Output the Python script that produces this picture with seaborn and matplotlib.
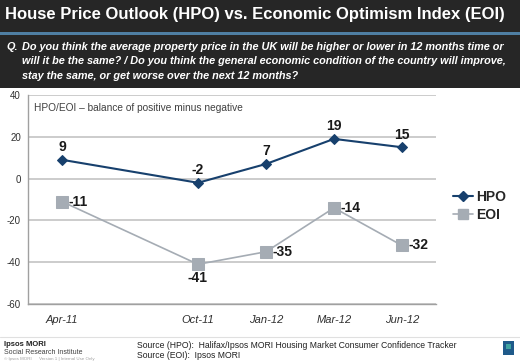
import numpy as np
import pandas as pd
import matplotlib.pyplot as plt
import seaborn as sns
from matplotlib.patches import Rectangle
from matplotlib.lines import Line2D

###############################################################################

months = ['Apr-11', '', 'Oct-11', 'Jan-12', 'Mar-12', 'Jun-12']
hpo = [9, np.nan, -2, 7, 19, 15]
eoi = [-11, np.nan, -41, -35, -14, -32]

title = 'House Price Outlook (HPO) vs. Economic Optimism Index (EOI)'
question = [
    'Do you think the average property price in the UK will be higher or lower in 12 months time or',
    'will it be the same? / Do you think the general economic condition of the country will improve,',
    'stay the same, or get worse over the next 12 months?',
]

HPO_COLOR = '#17406d'
EOI_COLOR = '#a5acb4'
DARK = '#262626'

###############################################################################

sns.set_style('white')
plt.rcParams['font.family'] = ['Liberation Sans', 'DejaVu Sans']
plt.rcParams['axes.unicode_minus'] = False

df = pd.DataFrame({'pos': np.arange(len(months)), 'HPO': hpo, 'EOI': eoi})

fig = plt.figure(figsize=(5.2, 3.62), dpi=100)
fig.patch.set_facecolor('white')

# header bars
fig.add_artist(Rectangle((0, 1 - 32 / 362), 1, 32 / 362, transform=fig.transFigure,
                         facecolor=DARK, edgecolor='none', zorder=0))
fig.add_artist(Rectangle((0, 1 - 35 / 362), 1, 3 / 362, transform=fig.transFigure,
                         facecolor='#4f7fa3', edgecolor='none', zorder=0))
fig.add_artist(Rectangle((0, 1 - 88 / 362), 1, 53 / 362, transform=fig.transFigure,
                         facecolor=DARK, edgecolor='none', zorder=0))

fig.text(5 / 520, 1 - 15 / 362, title, color='white', fontsize=12,
         fontweight='bold', va='center', ha='left')
fig.text(6 / 520, 1 - 47 / 362, 'Q.', color='white', fontsize=7.8,
         fontweight='bold', style='italic', va='center')
for i, line in enumerate(question):
    fig.text(22 / 520, 1 - (47 + 14.5 * i) / 362, line, color='white', fontsize=7.8,
             fontweight='bold', style='italic', va='center')

ax = fig.add_axes([28 / 520, 1 - 304 / 362, 408 / 520, 209 / 362])

sns.lineplot(data=df.dropna(), x='pos', y='EOI', ax=ax, color=EOI_COLOR,
             marker='s', markersize=8, markeredgecolor=EOI_COLOR, linewidth=1.2)
sns.lineplot(data=df.dropna(), x='pos', y='HPO', ax=ax, color=HPO_COLOR,
             marker='D', markersize=5.5, markeredgecolor=HPO_COLOR, linewidth=1.5)

ax.set_xlim(-0.5, len(months) - 0.5)
ax.set_ylim(-60, 40)
ax.set_yticks(np.arange(-60, 41, 20))
ax.set_xticks(np.arange(-0.5, len(months), 1))
ax.set_xticklabels([])
ax.set_xticks(np.arange(len(months)), minor=True)
ax.set_xticklabels(months, minor=True, fontsize=8, style='italic', color='#303030')
ax.tick_params(axis='x', which='major', direction='out', length=4, color='#a0a0a0')
ax.tick_params(axis='x', which='minor', length=0, pad=8)
ax.tick_params(axis='y', direction='out', length=3, color='#a0a0a0',
               labelsize=7, labelcolor='#303030', pad=2)
ax.set_xlabel('')
ax.set_ylabel('')
ax.grid(axis='y', color='#c8c8c8', linewidth=1.3)
ax.grid(axis='x', visible=False)
for s in ['top', 'right']:
    ax.spines[s].set_visible(False)
for s in ['left', 'bottom']:
    ax.spines[s].set_color('#a0a0a0')
    ax.spines[s].set_linewidth(1)
ax.set_axisbelow(True)

ax.text(0.015, 0.96, 'HPO/EOI \u2013 balance of positive minus negative', transform=ax.transAxes,
        fontsize=7.3, color='#404040', va='top')

for x, v in zip(df['pos'], df['HPO']):
    if np.isnan(v):
        continue
    ax.annotate(f'{v:g}', (x, v), xytext=(0, 4), textcoords='offset points',
                ha='center', va='bottom', fontsize=10, fontweight='bold', color='#1a1a1a')
for x, v in zip(df['pos'], df['EOI']):
    if np.isnan(v):
        continue
    if v == -41:
        ax.annotate(f'{v:g}', (x, v), xytext=(0, -5), textcoords='offset points',
                    ha='center', va='top', fontsize=10, fontweight='bold', color='#1a1a1a')
    else:
        ax.annotate(f'{v:g}', (x, v), xytext=(5, 0), textcoords='offset points',
                    ha='left', va='center', fontsize=10, fontweight='bold', color='#1a1a1a')

handles = [
    Line2D([], [], color=HPO_COLOR, marker='D', markersize=5, linewidth=1.5),
    Line2D([], [], color=EOI_COLOR, marker='s', markersize=7, linewidth=1.2),
]
fig.legend(handles, ['HPO', 'EOI'], loc='center left', bbox_to_anchor=(440 / 520, 1 - 206 / 362),
           frameon=False, prop={'weight': 'bold', 'size': 10}, handlelength=1.5,
           handletextpad=0.2, labelspacing=0.3)

# footer
fig.add_artist(Line2D([0, 1], [1 - 337 / 362] * 2, transform=fig.transFigure,
                      color='#e0e0e0', linewidth=0.8))
fig.text(4 / 520, 1 - 344 / 362, 'Ipsos MORI', fontsize=5.5, fontweight='bold',
         color='#202020', va='center')
fig.text(4 / 520, 1 - 352 / 362, 'Social Research Institute', fontsize=5,
         color='#404040', va='center')
fig.text(4 / 520, 1 - 359 / 362, '\u00a9 Ipsos MORI      Version 1 | Internal Use Only',
         fontsize=3.2, color='#a0a0a0', va='center')
fig.text(137 / 520, 1 - 345 / 362, 'Source (HPO):  Halifax/Ipsos MORI Housing Market Consumer Confidence Tracker',
         fontsize=6.2, color='#202020', va='center')
fig.text(137 / 520, 1 - 356 / 362, 'Source (EOI):  Ipsos MORI', fontsize=6.2,
         color='#202020', va='center')
fig.add_artist(Rectangle((503 / 520, 1 - 355 / 362), 11 / 520, 14 / 362,
                         transform=fig.transFigure, facecolor='#1f5a8a', edgecolor='none'))
fig.add_artist(Rectangle((506 / 520, 1 - 349 / 362), 5 / 520, 5 / 362,
                         transform=fig.transFigure, facecolor='#3fa3a0', edgecolor='none'))

fig.savefig('out.png', dpi=100)
plt.close(fig)
